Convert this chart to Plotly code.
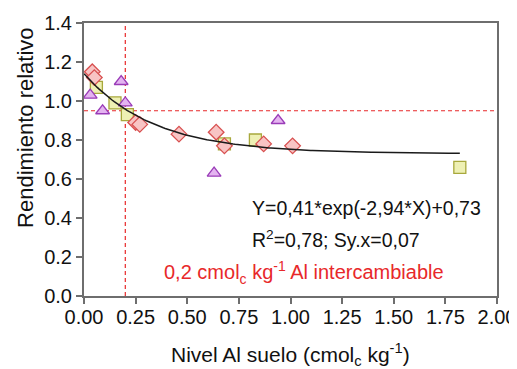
import numpy as np
import plotly.graph_objects as go

# Data
diamond_x = [0.04, 0.05, 0.25, 0.27, 0.46, 0.64, 0.68, 0.87, 1.01]
diamond_y = [1.15, 1.12, 0.89, 0.88, 0.83, 0.84, 0.77, 0.78, 0.77]

square_x = [0.06, 0.15, 0.21, 0.68, 0.83, 1.82]
square_y = [1.07, 0.99, 0.93, 0.78, 0.80, 0.66]

triangle_x = [0.03, 0.09, 0.18, 0.20, 0.63, 0.94]
triangle_y = [1.03, 0.95, 1.10, 0.99, 0.63, 0.90]

# Fitted model shown on the chart: Y = a*exp(b*X) + c
fit_a, fit_b, fit_c = 0.41, -2.94, 0.73
fit_xmin, fit_xmax = 0.0, 1.82

threshold_x = 0.2
threshold_y = 0.95

x_ticks = [0.0, 0.25, 0.5, 0.75, 1.0, 1.25, 1.5, 1.75, 2.0]
y_ticks = [0.0, 0.2, 0.4, 0.6, 0.8, 1.0, 1.2, 1.4]

FONT = "Arial, Liberation Sans, sans-serif"
RED = "#e8282a"
AXIS = "#6e6e6e"

fit_x = np.linspace(fit_xmin, fit_xmax, 200)
fit_y = fit_a * np.exp(fit_b * fit_x) + fit_c

fig = go.Figure()

fig.add_trace(go.Scatter(x=[0, 2.0], y=[threshold_y, threshold_y], mode="lines",
                         line=dict(color=RED, width=1.2, dash="4px,3px"), showlegend=False,
                         hoverinfo="skip"))
fig.add_trace(go.Scatter(x=[threshold_x, threshold_x], y=[0, 1.4], mode="lines",
                         line=dict(color=RED, width=1.2, dash="4px,3px"), showlegend=False,
                         hoverinfo="skip"))

fig.add_trace(go.Scatter(x=square_x, y=square_y, mode="markers",
                         marker=dict(symbol="square", size=12, color="#eef0b4",
                                     line=dict(color="#a8a83c", width=1.3)),
                         showlegend=False))
fig.add_trace(go.Scatter(x=triangle_x, y=triangle_y, mode="markers",
                         marker=dict(symbol="triangle-up", size=12, color="#e4b4f0",
                                     line=dict(color="#9a3cb8", width=1.3)),
                         showlegend=False))
fig.add_trace(go.Scatter(x=diamond_x, y=diamond_y, mode="markers",
                         marker=dict(symbol="diamond", size=12, color="#f8c4c4",
                                     line=dict(color="#d85050", width=1.3)),
                         showlegend=False))

fig.add_trace(go.Scatter(x=fit_x, y=fit_y, mode="lines",
                         line=dict(color="#1a1a1a", width=1.5), showlegend=False))

fig.add_annotation(x=0.804, y=0.451, xref="x", yref="y", xanchor="left", yanchor="middle",
                   text="Y=0,41*exp(-2,94*X)+0,73", showarrow=False,
                   font=dict(family=FONT, size=19.5, color="#111"))
fig.add_annotation(x=0.804, y=0.292, xref="x", yref="y", xanchor="left", yanchor="middle",
                   text="R<sup>2</sup>=0,78; Sy.x=0,07", showarrow=False,
                   font=dict(family=FONT, size=19.5, color="#111"))
fig.add_annotation(x=0.378, y=0.118, xref="x", yref="y", xanchor="left", yanchor="middle",
                   text="0,2 cmol<sub>c</sub> kg<sup>-1</sup> Al intercambiable", showarrow=False,
                   font=dict(family=FONT, size=20, color=RED))
fig.add_annotation(x=-0.143, y=0.619, xref="paper", yref="paper", xanchor="center",
                   yanchor="middle", textangle=-90, text="Rendimiento relativo",
                   showarrow=False, font=dict(family=FONT, size=22, color="#111"))
fig.add_annotation(x=0.5, y=-0.215, xref="paper", yref="paper", xanchor="center",
                   yanchor="middle", text="Nivel Al suelo (cmol<sub>c</sub> kg<sup>-1</sup>)",
                   showarrow=False, font=dict(family=FONT, size=21, color="#111"))

# page body has an 8px margin: figure occupies 8..517 x 8..369 of the window
fig.update_layout(
    width=509, height=361,
    margin=dict(l=76, r=20, t=15, b=73),
    paper_bgcolor="white", plot_bgcolor="white",
    font=dict(family=FONT, color="#111"),
)
fig.update_xaxes(range=[0, 2.0], tickvals=x_ticks, ticktext=[f"{v:.2f}" for v in x_ticks],
                 showgrid=False, zeroline=False, showline=True, linecolor=AXIS, linewidth=2,
                 mirror=True, ticks="outside", ticklen=6, tickwidth=1.5, tickcolor=AXIS,
                 automargin=False, ticklabelstandoff=-4,
                 tickfont=dict(family=FONT, size=20, color="#111"))
fig.update_yaxes(range=[0, 1.4], tickvals=y_ticks, ticktext=[f"{v:.1f}" for v in y_ticks],
                 showgrid=False, zeroline=False, showline=True, linecolor=AXIS, linewidth=2,
                 mirror=True, ticks="outside", ticklen=6, tickwidth=1.5, tickcolor=AXIS,
                 automargin=False,
                 tickfont=dict(family=FONT, size=20, color="#111"))

fig.write_html("out.html")
